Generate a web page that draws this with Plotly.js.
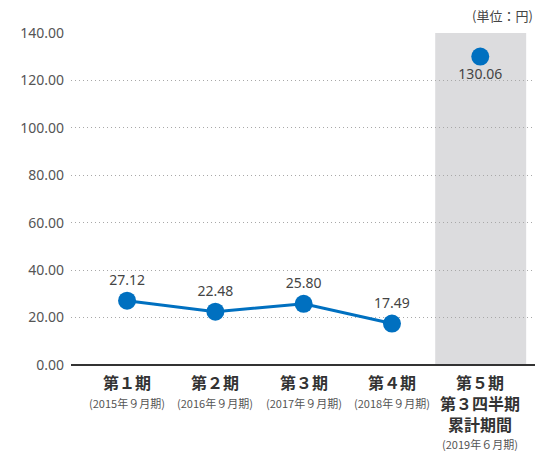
<!DOCTYPE html>
<html><head><meta charset="utf-8">
<script src="https://cdn.plot.ly/plotly-3.0.1.min.js"></script>
<style>html,body{margin:0;padding:0;background:#fff}#c{width:535px;height:451px}</style>
</head><body><div id="c"></div>
<script>
const periods = [["第１期"],["第２期"],["第３期"],["第４期"],["第５期","第３四半期","累計期間"]];
const periodSubs = ["(2015年９月期)","(2016年９月期)","(2017年９月期)","(2018年９月期)","(2019年６月期)"];
const values = [27.12, 22.48, 25.80, 17.49, 130.06];
const yTicks = [0,20,40,60,80,100,120,140];
const unitLabel = "(単位：円)";

const F = '"Noto Sans", "Noto Sans CJK JP", sans-serif';
const FJ = '"Noto Sans CJK JP", "Noto Sans", sans-serif';
const FL = '"Liberation Sans", "Noto Sans CJK JP", sans-serif';
const blue = '#0070c0';
const xs = periods.map((_, i) => i);
const fmt = v => v.toFixed(2);

const traces = [
  {x: xs.slice(0,4), y: values.slice(0,4), mode:'lines+markers+text', type:'scatter',
   line:{color:blue, width:3}, marker:{color:blue, size:18},
   text: values.slice(0,4).map(fmt), textposition:'top center',
   textfont:{family:F, size:14, color:'#444'}, cliponaxis:false, hoverinfo:'skip'},
  {x: [xs[4]], y: [values[4]], mode:'markers+text', type:'scatter',
   marker:{color:blue, size:18},
   text: [fmt(values[4])], textposition:'bottom center',
   textfont:{family:F, size:14, color:'#444'}, cliponaxis:false, hoverinfo:'skip'}
];

const annotations = [{text:unitLabel, xref:'paper', yref:'paper', x:1, y:1, xanchor:'right', yanchor:'bottom',
    yshift:6, showarrow:false, font:{family:FJ, size:13, color:'#444'}}];
periods.forEach((lines, i) => {
  const n = lines.length;
  annotations.push({text:lines.map(t => '<b>'+t+'</b>').join('<br>'), xref:'x', yref:'paper', x:xs[i], y:0,
    xanchor:'center', yanchor:'middle', yshift:-18 - 10.5*(n-1), showarrow:false,
    font:{family:FL, size:16, color:'#333'}});
  annotations.push({text:periodSubs[i], xref:'x', yref:'paper', x:xs[i], y:0, xanchor:'center', yanchor:'middle',
    yshift:-38 - 20.5*(n-1), showarrow:false, font:{family:FJ, size:11, color:'#555'}});
});

const layout = {
  width:535, height:451,
  margin:{l:71, r:0, t:33, b:86},
  paper_bgcolor:'#fff', plot_bgcolor:'#fff',
  showlegend:false,
  font:{family:F, color:'#444'},
  xaxis:{range:[-0.635, 4.62], showticklabels:false, showgrid:false, zeroline:false,
    showline:false, ticks:'', fixedrange:true},
  yaxis:{range:[0,140], tickvals:yTicks, ticktext:yTicks.map(fmt),
    tickfont:{family:F, size:14, color:'#555'}, showgrid:true, gridcolor:'#a8a8a8',
    griddash:'1px,3px', gridwidth:1, zeroline:true, zerolinecolor:'#333', zerolinewidth:1.5,
    showline:false, ticks:'', ticklabelstandoff:6, fixedrange:true},
  shapes:[{type:'rect', xref:'x', yref:'y', x0:3.49, x1:4.52, y0:0, y1:140,
    fillcolor:'#dcdcde', line:{width:0}, layer:'below'}],
  annotations: annotations
};
Plotly.newPlot('c', traces, layout, {displayModeBar:false, staticPlot:true});
</script></body></html>
